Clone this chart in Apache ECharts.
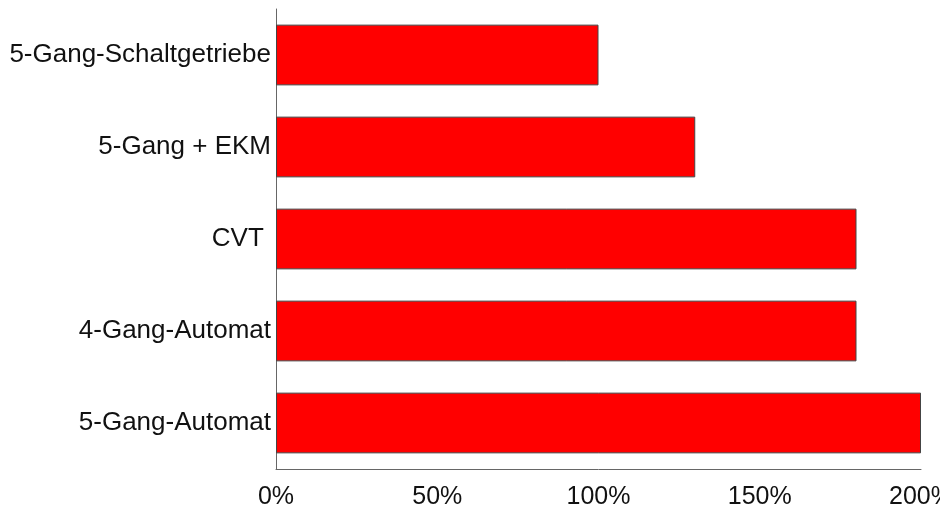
<!DOCTYPE html>
<html>
<head>
<meta charset="utf-8">
<script src="https://cdn.jsdelivr.net/npm/echarts@6/dist/echarts.min.js"></script>
<style>
  html, body { margin: 0; padding: 0; background: #fff; }
  #chart { width: 940px; height: 510px; }
</style>
</head>
<body>
<div id="chart"></div>
<script>
// Transmission types, listed top to bottom
const categories = ['5-Gang-Schaltgetriebe', '5-Gang + EKM', 'CVT ', '4-Gang-Automat', '5-Gang-Automat'];
// Relative values in percent
const values = [100, 130, 180, 180, 200];
// Axis ticks in percent
const tickValues = [0, 50, 100, 150, 200];

const chart = echarts.init(document.getElementById('chart'), null, { renderer: 'canvas' });

chart.setOption({
  animation: false,
  backgroundColor: '#ffffff',
  grid: {
    left: 276, right: 19, top: 9, bottom: 41,
    containLabel: false,
    outerBoundsMode: 'none'
  },
  xAxis: {
    type: 'value',
    min: tickValues[0],
    max: tickValues[tickValues.length - 1],
    interval: tickValues[1] - tickValues[0],
    axisLine: { show: true, lineStyle: { color: '#666666', width: 1 } },
    axisTick: { show: false },
    splitLine: { show: false },
    axisLabel: {
      formatter: v => v + '%',
      color: '#111111',
      fontFamily: 'Liberation Sans, Arial, sans-serif',
      fontSize: 25,
      margin: 16
    }
  },
  yAxis: {
    type: 'category',
    data: categories,
    inverse: true,
    axisLine: { show: true, lineStyle: { color: '#666666', width: 1 } },
    axisTick: { show: false },
    splitLine: { show: false },
    axisLabel: {
      color: '#111111',
      fontFamily: 'Liberation Sans, Arial, sans-serif',
      fontSize: 26,
      margin: 5
    }
  },
  series: [{
    type: 'bar',
    data: values,
    barWidth: '66%',
    itemStyle: { color: '#ff0000', borderColor: '#444444', borderWidth: 1 }
  }]
});
</script>
</body>
</html>
